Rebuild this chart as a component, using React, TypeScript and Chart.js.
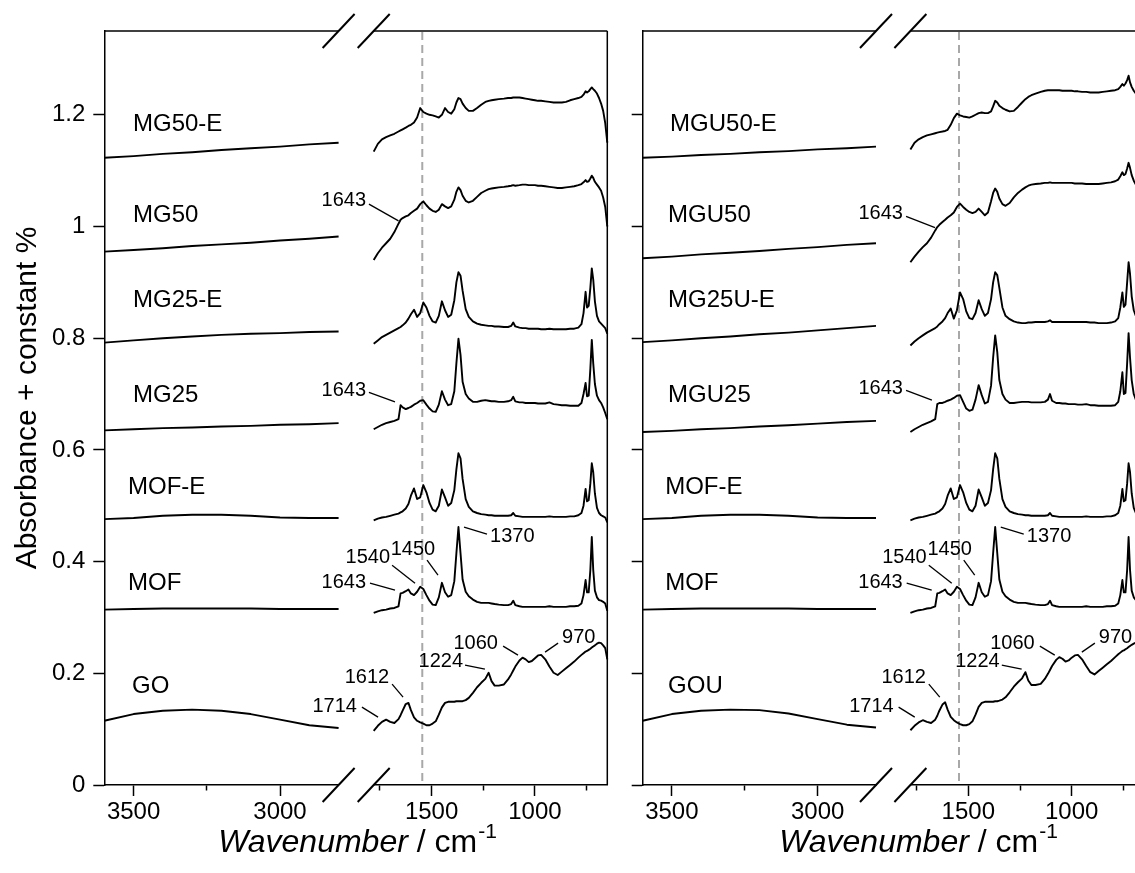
import React, { useEffect, useRef } from 'react';
import { Chart, registerables } from 'chart.js';

Chart.register(...registerables);

// ---------------- data ----------------
const WN_A = [3600, 3500, 3400, 3300, 3200, 3100, 3000, 2900, 2800];
const WN_B = [
  1780, 1760, 1740, 1720, 1700, 1680, 1660, 1650, 1640, 1625,
  1612, 1600, 1585, 1570, 1555, 1540, 1525, 1510, 1495, 1480,
  1465, 1450, 1435, 1420, 1405, 1390, 1380, 1370, 1360, 1350,
  1335, 1320, 1300, 1280, 1260, 1240, 1224, 1210, 1195, 1175,
  1150, 1130, 1115, 1105, 1095, 1075, 1060, 1045, 1030, 1015,
  1000, 985, 970, 950, 930, 910, 890, 870, 850, 830,
  810, 790, 775, 765, 755, 748, 740, 732, 725, 718,
  710, 700, 690, 680, 670, 660, 650,
];

// left panel
const MG50E_A = [1.123, 1.126, 1.130, 1.133, 1.137, 1.140, 1.143, 1.147, 1.150];
const MG50_A = [0.955, 0.958, 0.961, 0.965, 0.968, 0.971, 0.975, 0.978, 0.982];
const MG25E_A = [0.792, 0.796, 0.800, 0.803, 0.806, 0.808, 0.809, 0.811, 0.812];
const MG25_A = [0.635, 0.637, 0.639, 0.640, 0.642, 0.643, 0.645, 0.646, 0.648];
const MOFE_A = [0.476, 0.478, 0.482, 0.484, 0.484, 0.482, 0.479, 0.478, 0.478];
const MOF_A = [0.314, 0.315, 0.316, 0.316, 0.316, 0.316, 0.315, 0.315, 0.315];
const GO_A = [0.115, 0.127, 0.133, 0.135, 0.133, 0.127, 0.117, 0.107, 0.102];

// right panel
const MGU50E_A = [1.123, 1.125, 1.128, 1.130, 1.133, 1.135, 1.138, 1.140, 1.143];
const MGU50_A = [0.943, 0.946, 0.950, 0.953, 0.956, 0.960, 0.963, 0.967, 0.970];
const MG25UE_A = [0.793, 0.796, 0.800, 0.803, 0.807, 0.810, 0.814, 0.818, 0.822];
const MGU25_A = [0.632, 0.634, 0.637, 0.639, 0.642, 0.644, 0.647, 0.650, 0.652];
const GOU_A = [0.115, 0.127, 0.133, 0.135, 0.134, 0.128, 0.118, 0.108, 0.103];

const GO_B = [
  0.097, 0.106, 0.113, 0.117, 0.113, 0.111, 0.118, 0.125, 0.133, 0.145,
  0.147, 0.134, 0.121, 0.115, 0.112, 0.110, 0.107, 0.107, 0.110, 0.114,
  0.126, 0.139, 0.147, 0.149, 0.149, 0.149, 0.150, 0.150, 0.150, 0.150,
  0.152, 0.156, 0.165, 0.175, 0.183, 0.190, 0.201, 0.186, 0.178, 0.178,
  0.180, 0.189, 0.198, 0.205, 0.212, 0.223, 0.228, 0.225, 0.220, 0.222,
  0.227, 0.232, 0.233, 0.225, 0.212, 0.201, 0.197, 0.203, 0.209, 0.215,
  0.221, 0.228, 0.233, 0.236, 0.239, 0.240, 0.242, 0.244, 0.246, 0.248,
  0.250, 0.253, 0.255, 0.254, 0.250, 0.245, 0.225,
];
const GOU_B = [
  0.098, 0.106, 0.112, 0.116, 0.113, 0.111, 0.117, 0.124, 0.133, 0.144,
  0.148, 0.135, 0.122, 0.116, 0.112, 0.109, 0.107, 0.107, 0.109, 0.114,
  0.126, 0.140, 0.147, 0.149, 0.149, 0.149, 0.149, 0.150, 0.150, 0.151,
  0.153, 0.157, 0.166, 0.176, 0.184, 0.191, 0.202, 0.187, 0.179, 0.179,
  0.181, 0.190, 0.199, 0.206, 0.213, 0.224, 0.229, 0.226, 0.221, 0.223,
  0.228, 0.232, 0.233, 0.225, 0.213, 0.202, 0.198, 0.204, 0.210, 0.216,
  0.222, 0.229, 0.234, 0.237, 0.240, 0.241, 0.243, 0.245, 0.247, 0.249,
  0.251, 0.253, 0.255, 0.254, 0.250, 0.245, 0.225,
];
const MOF_B = [
  0.308, 0.311, 0.313, 0.314, 0.316, 0.317, 0.320, 0.343, 0.344, 0.347,
  0.350, 0.343, 0.340, 0.346, 0.355, 0.351, 0.340, 0.330, 0.323, 0.322,
  0.336, 0.362, 0.345, 0.337, 0.340, 0.365, 0.415, 0.462, 0.415, 0.368,
  0.346, 0.338, 0.332, 0.328, 0.326, 0.326, 0.326, 0.325, 0.324, 0.323,
  0.322, 0.322, 0.324, 0.330, 0.322, 0.320, 0.319, 0.319, 0.319, 0.319,
  0.319, 0.319, 0.319, 0.319, 0.320, 0.319, 0.319, 0.319, 0.319, 0.320,
  0.320, 0.321, 0.325, 0.340, 0.367, 0.345, 0.345, 0.385, 0.444, 0.385,
  0.348, 0.336, 0.331, 0.330, 0.328, 0.325, 0.312,
];
const MOFE_B = [
  0.474, 0.477, 0.479, 0.480, 0.482, 0.484, 0.486, 0.488, 0.490, 0.495,
  0.503, 0.518, 0.531, 0.512, 0.515, 0.537, 0.524, 0.505, 0.493, 0.490,
  0.500, 0.529, 0.515, 0.500, 0.505, 0.528, 0.565, 0.594, 0.585, 0.548,
  0.512, 0.498, 0.490, 0.487, 0.485, 0.484, 0.483, 0.483, 0.482, 0.482,
  0.482, 0.482, 0.483, 0.487, 0.482, 0.481, 0.480, 0.480, 0.480, 0.480,
  0.480, 0.480, 0.480, 0.480, 0.481, 0.480, 0.480, 0.480, 0.480, 0.481,
  0.481, 0.483, 0.487, 0.500, 0.530, 0.508, 0.510, 0.540, 0.576, 0.560,
  0.522, 0.496, 0.487, 0.483, 0.481, 0.479, 0.470,
];
const MG25_B = [
  0.637, 0.641, 0.645, 0.648, 0.650, 0.652, 0.655, 0.680, 0.676, 0.673,
  0.675, 0.677, 0.681, 0.684, 0.688, 0.689, 0.681, 0.674, 0.669, 0.668,
  0.681, 0.705, 0.690, 0.680, 0.682, 0.705, 0.755, 0.799, 0.770, 0.722,
  0.700, 0.692, 0.686, 0.686, 0.688, 0.689, 0.688, 0.687, 0.687, 0.686,
  0.686, 0.687, 0.689, 0.695, 0.687, 0.685, 0.685, 0.684, 0.684, 0.684,
  0.684, 0.683, 0.683, 0.683, 0.685, 0.682, 0.681, 0.680, 0.680, 0.679,
  0.679, 0.679, 0.684, 0.700, 0.720, 0.696, 0.697, 0.745, 0.797, 0.755,
  0.718, 0.697, 0.689, 0.684, 0.676, 0.666, 0.655,
];
const MG25E_B = [
  0.790, 0.796, 0.802, 0.806, 0.810, 0.814, 0.818, 0.820, 0.823, 0.828,
  0.835, 0.843, 0.851, 0.838, 0.845, 0.864, 0.855, 0.840, 0.830, 0.828,
  0.840, 0.866, 0.850, 0.838, 0.842, 0.868, 0.900, 0.918, 0.912, 0.885,
  0.852, 0.838, 0.830, 0.826, 0.824, 0.823, 0.822, 0.822, 0.821, 0.821,
  0.820, 0.820, 0.822, 0.828, 0.821, 0.819, 0.818, 0.818, 0.817, 0.817,
  0.817, 0.817, 0.816, 0.816, 0.817, 0.816, 0.816, 0.816, 0.816, 0.817,
  0.817, 0.819, 0.825, 0.845, 0.883, 0.855, 0.858, 0.890, 0.925, 0.905,
  0.866, 0.840, 0.830, 0.826, 0.822, 0.818, 0.808,
];
const MG50_B = [
  0.940, 0.952, 0.962, 0.970, 0.978, 0.990, 1.005, 1.012, 1.015, 1.018,
  1.020, 1.024, 1.028, 1.032, 1.040, 1.045, 1.038, 1.032, 1.028, 1.026,
  1.030, 1.040, 1.036, 1.033, 1.036, 1.048, 1.062, 1.070, 1.065, 1.055,
  1.046, 1.043, 1.046, 1.053, 1.060, 1.064, 1.067, 1.068, 1.069, 1.070,
  1.071, 1.072, 1.073, 1.074, 1.073, 1.074, 1.075, 1.075, 1.074, 1.074,
  1.074, 1.073, 1.073, 1.072, 1.071, 1.070, 1.069, 1.069, 1.070, 1.071,
  1.072, 1.074, 1.076, 1.079, 1.083, 1.080, 1.081, 1.086, 1.091, 1.087,
  1.080, 1.075, 1.070, 1.064, 1.052, 1.035, 1.000,
];
const MG50E_B = [
  1.134, 1.148, 1.156, 1.160, 1.163, 1.166, 1.170, 1.172, 1.174, 1.177,
  1.180, 1.182, 1.186, 1.195, 1.212, 1.205, 1.202, 1.200, 1.199, 1.197,
  1.195, 1.200, 1.212, 1.205, 1.202, 1.210, 1.222, 1.230, 1.228, 1.220,
  1.212, 1.207, 1.207, 1.212, 1.218, 1.223, 1.225, 1.226, 1.227, 1.228,
  1.229, 1.230, 1.230, 1.231, 1.231, 1.231, 1.230, 1.229, 1.228, 1.227,
  1.226, 1.225, 1.225, 1.224, 1.223, 1.222, 1.222, 1.222, 1.223, 1.226,
  1.228, 1.230, 1.232, 1.236, 1.242, 1.240, 1.242, 1.246, 1.249, 1.246,
  1.243, 1.238, 1.230, 1.220, 1.207, 1.185, 1.150,
];
const MGU25_B = [
  0.632, 0.637, 0.641, 0.645, 0.648, 0.651, 0.655, 0.682, 0.684, 0.684,
  0.686, 0.688, 0.690, 0.693, 0.697, 0.698, 0.686, 0.674, 0.670, 0.672,
  0.690, 0.716, 0.698, 0.683, 0.686, 0.715, 0.765, 0.805, 0.775, 0.725,
  0.700, 0.690, 0.684, 0.684, 0.685, 0.686, 0.686, 0.686, 0.685, 0.685,
  0.685, 0.686, 0.690, 0.700, 0.688, 0.684, 0.684, 0.683, 0.683, 0.682,
  0.682, 0.682, 0.681, 0.681, 0.682, 0.680, 0.680, 0.679, 0.679, 0.679,
  0.679, 0.680, 0.686, 0.705, 0.739, 0.700, 0.702, 0.755, 0.809, 0.765,
  0.725, 0.700, 0.690, 0.685, 0.678, 0.668, 0.658,
];
const MG25UE_B = [
  0.787, 0.794, 0.800, 0.805, 0.810, 0.814, 0.818, 0.821, 0.825, 0.830,
  0.836, 0.845, 0.853, 0.835, 0.850, 0.882, 0.870, 0.848, 0.836, 0.834,
  0.845, 0.868, 0.852, 0.840, 0.845, 0.870, 0.900, 0.918, 0.913, 0.890,
  0.855, 0.840, 0.834, 0.830, 0.828, 0.827, 0.827, 0.828, 0.828, 0.829,
  0.829, 0.829, 0.830, 0.832, 0.829, 0.829, 0.829, 0.829, 0.829, 0.829,
  0.829, 0.829, 0.829, 0.829, 0.829, 0.828, 0.828, 0.827, 0.827, 0.827,
  0.828, 0.830, 0.836, 0.855, 0.882, 0.856, 0.860, 0.900, 0.936, 0.915,
  0.875, 0.850, 0.840, 0.835, 0.830, 0.826, 0.815,
];
const MGU50_B = [
  0.936, 0.946, 0.955, 0.963, 0.970, 0.980, 0.993, 0.999, 1.003, 1.008,
  1.012, 1.016, 1.020, 1.025, 1.035, 1.041, 1.035, 1.030, 1.026, 1.024,
  1.026, 1.032, 1.026, 1.020, 1.025, 1.045, 1.060, 1.068, 1.062, 1.050,
  1.040, 1.037, 1.042, 1.052, 1.060, 1.066, 1.070, 1.073, 1.075, 1.076,
  1.077, 1.078, 1.078, 1.079, 1.078, 1.078, 1.078, 1.078, 1.078, 1.078,
  1.078, 1.077, 1.077, 1.077, 1.076, 1.076, 1.076, 1.076, 1.077, 1.078,
  1.079, 1.081, 1.084, 1.090, 1.097, 1.092, 1.094, 1.104, 1.114, 1.105,
  1.092, 1.082, 1.075, 1.068, 1.055, 1.038, 1.005,
];
const MGU50E_B = [
  1.138, 1.150, 1.156, 1.160, 1.163, 1.165, 1.167, 1.168, 1.169, 1.170,
  1.171, 1.173, 1.182, 1.194, 1.202, 1.199, 1.197, 1.196, 1.195, 1.197,
  1.200, 1.203, 1.204, 1.203, 1.203, 1.206, 1.215, 1.225, 1.222, 1.216,
  1.212, 1.209, 1.206, 1.207, 1.214, 1.222, 1.228, 1.232, 1.235, 1.238,
  1.241, 1.243, 1.244, 1.244, 1.244, 1.244, 1.244, 1.243, 1.243, 1.243,
  1.243, 1.242, 1.242, 1.241, 1.241, 1.240, 1.240, 1.240, 1.241, 1.242,
  1.243, 1.244, 1.246, 1.250, 1.255, 1.252, 1.256, 1.262, 1.270, 1.258,
  1.250, 1.243, 1.238, 1.232, 1.222, 1.205, 1.170,
];

const NAMES_L = ['MG50-E', 'MG50', 'MG25-E', 'MG25', 'MOF-E', 'MOF', 'GO'];
const NAMES_R = ['MGU50-E', 'MGU50', 'MG25U-E', 'MGU25', 'MOF-E', 'MOF', 'GOU'];

const SERIES_L = [
  [MG50E_A, MG50E_B], [MG50_A, MG50_B], [MG25E_A, MG25E_B], [MG25_A, MG25_B],
  [MOFE_A, MOFE_B], [MOF_A, MOF_B], [GO_A, GO_B],
];
const SERIES_R = [
  [MGU50E_A, MGU50E_B], [MGU50_A, MGU50_B], [MG25UE_A, MG25UE_B], [MGU25_A, MGU25_B],
  [MOFE_A, MOFE_B], [MOF_A, MOF_B], [GOU_A, GOU_B],
];

const Y_TICKS = [0, 0.2, 0.4, 0.6, 0.8, 1, 1.2];
const XA_TICKS = [3500, 3250, 3000];
const XB_TICKS = [1750, 1500, 1250, 1000, 750];
const X_MAJOR = [3500, 3000, 1500, 1000];
const DASH_WN = 1545;

// ---------------- layout ----------------
const W = 1135, H = 873;
const FONT = '"Liberation Sans", Arial, Helvetica, sans-serif';
const TOP = 31, BOTTOM = 785;
const PANELS = [
  { aL: 104.3, aR: 338.6, bL: 373.7, bR: 607.3, titleX: 357 },
  { aL: 642.7, aR: 876, bL: 910.4, bR: 1144.1, titleX: 918 },
];

// name label anchors (wavenumber on the high segment, absorbance)
const NAME_V = [1.1825, 1.0197, 0.8676, 0.6977, 0.5331, 0.3614, 0.1771];
const NAME_W = [
  [3502, 3502, 3502, 3502, 3519, 3519, 3505],
  [3506, 3513, 3513, 3513, 3523, 3523, 3513],
];

type Ann = { t: string; w: number; v: number; align: CanvasTextAlign; l: number[] };
const ANN_COMMON: Ann[] = [
  { t: '1643', w: 1817, v: 0.363, align: 'right', l: [1798, 0.3614, 1677, 0.3488] },
  { t: '1540', w: 1701, v: 0.408, align: 'right', l: [1691, 0.3936, 1580, 0.3614] },
  { t: '1450', w: 1590, v: 0.422, align: 'center', l: [1522, 0.4025, 1469, 0.3757] },
  { t: '1370', w: 1217, v: 0.445, align: 'left', l: [1343, 0.4615, 1232, 0.449] },
  { t: '1714', w: 1861, v: 0.141, align: 'right', l: [1837, 0.1395, 1759, 0.1216] },
  { t: '1612', w: 1705, v: 0.193, align: 'right', l: [1691, 0.1807, 1638, 0.1574] },
  { t: '1224', w: 1348, v: 0.222, align: 'right', l: [1338, 0.2147, 1242, 0.2075] },
  { t: '1060', w: 1179, v: 0.254, align: 'right', l: [1154, 0.2487, 1082, 0.2326] },
  { t: '970', w: 869, v: 0.265, align: 'left', l: [888, 0.254, 951, 0.2379] },
];
const ANN_PANEL: Ann[][] = [
  [
    { t: '1643', w: 1817, v: 1.046, align: 'right', l: [1803, 1.040, 1660, 1.010] },
    { t: '1643', w: 1817, v: 0.7066, align: 'right', l: [1803, 0.703, 1677, 0.686] },
  ],
  [
    { t: '1643', w: 1816, v: 1.023, align: 'right', l: [1801, 1.018, 1661, 0.998] },
    { t: '1643', w: 1816, v: 0.71, align: 'right', l: [1801, 0.7066, 1676, 0.689] },
  ],
];

// ---------------- chart ----------------
function pts(xs: number[], ys: number[]) {
  return xs.map((x, i) => ({ x, y: ys[i] }));
}

function place(scale: any, left: number, right: number, top: number, bottom: number) {
  scale.left = left; scale.right = right; scale.top = top; scale.bottom = bottom;
  scale.width = right - left; scale.height = bottom - top;
  scale.configure();
}

const layoutPlugin = {
  id: 'brokenAxes',
  afterLayout(chart: any) {
    PANELS.forEach((p, i) => {
      place(chart.scales['y' + i], p.aL - 80, p.aL, TOP, BOTTOM);
      place(chart.scales['xa' + i], p.aL, p.aR, BOTTOM, BOTTOM + 60);
      place(chart.scales['xb' + i], p.bL, p.bR, BOTTOM, BOTTOM + 60);
    });
    chart.chartArea = { left: 104.3, top: TOP, right: 1144.1, bottom: BOTTOM, width: 1039.8, height: BOTTOM - TOP };
  },
};

function line(ctx: CanvasRenderingContext2D, x1: number, y1: number, x2: number, y2: number, w: number) {
  ctx.lineWidth = w;
  ctx.beginPath();
  ctx.moveTo(x1, y1);
  ctx.lineTo(x2, y2);
  ctx.stroke();
}

const overlayPlugin = {
  id: 'overlay',
  beforeDatasetsDraw(chart: any) {
    const ctx = chart.ctx as CanvasRenderingContext2D;
    ctx.save();
    PANELS.forEach((_p, i) => {
      const dx = chart.scales['xb' + i].getPixelForValue(DASH_WN);
      ctx.strokeStyle = '#a8a8a8';
      ctx.setLineDash([8, 5]);
      line(ctx, dx, TOP + 1, dx, BOTTOM - 1, 2);
    });
    ctx.restore();
  },
  afterDraw(chart: any) {
    const ctx = chart.ctx as CanvasRenderingContext2D;
    ctx.save();
    PANELS.forEach((p, i) => {
      ctx.strokeStyle = '#000';
      ctx.setLineDash([]);
      line(ctx, p.aL, TOP, p.aR, TOP, 1.5);
      line(ctx, p.bL, TOP, p.bR, TOP, 1.5);
      line(ctx, p.bR, TOP, p.bR, BOTTOM, 1.5);
      [p.aR, p.bL].forEach((cx) => [TOP, BOTTOM].forEach((cy) => line(ctx, cx - 16, cy + 17, cx + 16, cy - 17, 2)));

      const xa = chart.scales['xa' + i];
      const xb = chart.scales['xb' + i];
      const ys = chart.scales['y' + i];
      const names = i === 0 ? NAMES_L : NAMES_R;
      ctx.fillStyle = '#000';
      ctx.font = `24px ${FONT}`;
      ctx.textAlign = 'left';
      ctx.textBaseline = 'middle';
      names.forEach((n, k) => {
        ctx.fillText(n, xa.getPixelForValue(NAME_W[i][k]), ys.getPixelForValue(NAME_V[k]));
      });

      ctx.font = `20px ${FONT}`;
      [...ANN_PANEL[i], ...ANN_COMMON].forEach((a) => {
        ctx.textAlign = a.align;
        ctx.fillText(a.t, xb.getPixelForValue(a.w), ys.getPixelForValue(a.v));
        line(ctx, xb.getPixelForValue(a.l[0]), ys.getPixelForValue(a.l[1]),
          xb.getPixelForValue(a.l[2]), ys.getPixelForValue(a.l[3]), 1.3);
      });

      // x title
      const f1 = `italic 32px ${FONT}`, f2 = `32px ${FONT}`, f3 = `21px ${FONT}`;
      const p1 = 'Wavenumber', p2 = ' / cm', p3 = '-1';
      ctx.font = f1; const w1 = ctx.measureText(p1).width;
      ctx.font = f2; const w2 = ctx.measureText(p2).width;
      ctx.font = f3; const w3 = ctx.measureText(p3).width;
      let x = p.titleX - (w1 + w2 + w3) / 2;
      const base = 852;
      ctx.textAlign = 'left';
      ctx.textBaseline = 'alphabetic';
      ctx.font = f1; ctx.fillText(p1, x, base); x += w1;
      ctx.font = f2; ctx.fillText(p2, x, base); x += w2;
      ctx.font = f3; ctx.fillText(p3, x + 1, base - 14);
    });

    ctx.translate(28, 398);
    ctx.rotate(-Math.PI / 2);
    ctx.font = `30px ${FONT}`;
    ctx.textAlign = 'center';
    ctx.textBaseline = 'middle';
    ctx.fillStyle = '#000';
    ctx.fillText('Absorbance + constant %', 0, 0);
    ctx.restore();
  },
};

function xScale(min: number, max: number, ticks: number[]) {
  return {
    type: 'linear', axis: 'x', position: 'bottom', min, max, reverse: true,
    afterBuildTicks: (sc: any) => { sc.ticks = ticks.map((v) => ({ value: v })); },
    ticks: {
      autoSkip: false, maxRotation: 0, minRotation: 0, padding: 2, color: '#000',
      font: { family: FONT, size: 24 },
      callback: (v: number) => (X_MAJOR.includes(v) ? String(v) : ''),
    },
    grid: {
      drawOnChartArea: false, drawTicks: true, tickLength: 11, tickWidth: 1.5, tickColor: '#000',
      tickBorderDash: (c: any) => (c.tick && X_MAJOR.includes(c.tick.value) ? [] : [5, 40]),
    },
    border: { display: true, color: '#000', width: 1.5 },
  };
}

function yScale(showLabels: boolean) {
  return {
    type: 'linear', axis: 'y', position: 'left', min: 0, max: 1.35,
    afterBuildTicks: (sc: any) => { sc.ticks = Y_TICKS.map((v) => ({ value: v })); },
    ticks: {
      display: showLabels, padding: 8, color: '#000',
      font: { family: FONT, size: 24 },
      callback: (v: number) => String(Math.round(v * 10) / 10),
    },
    grid: { drawOnChartArea: false, drawTicks: true, tickLength: 11, tickWidth: 1.5, tickColor: '#000' },
    border: { display: true, color: '#000', width: 1.5 },
  };
}

function buildConfig(): any {
  const datasets: any[] = [];
  [SERIES_L, SERIES_R].forEach((list, p) => {
    list.forEach(([a, b]) => {
      const style = {
        borderColor: '#000', borderWidth: 1.9, pointRadius: 0, tension: 0, fill: false,
        borderJoinStyle: 'round', clip: false, yAxisID: 'y' + p,
      };
      datasets.push({ ...style, data: pts(WN_A, a), xAxisID: 'xa' + p });
      datasets.push({ ...style, data: pts(WN_B, b), xAxisID: 'xb' + p });
    });
  });
  return {
    type: 'line',
    data: { datasets },
    options: {
      responsive: false, animation: false, devicePixelRatio: 1, events: [],
      layout: { padding: 0 },
      plugins: { legend: { display: false }, tooltip: { enabled: false } },
      scales: {
        xa0: xScale(2800, 3600, XA_TICKS),
        xb0: xScale(650, 1780, XB_TICKS),
        y0: yScale(true),
        xa1: xScale(2800, 3600, XA_TICKS),
        xb1: xScale(650, 1780, XB_TICKS),
        y1: yScale(false),
      },
    },
    plugins: [layoutPlugin, overlayPlugin],
  };
}

export default function App() {
  const ref = useRef<HTMLCanvasElement>(null);
  useEffect(() => {
    const chart = new Chart(ref.current as HTMLCanvasElement, buildConfig());
    return () => chart.destroy();
  }, []);
  return (
    <div style={{ position: 'absolute', left: 0, top: 0, width: W, height: H, background: '#fff', overflow: 'hidden' }}>
      <canvas ref={ref} width={W} height={H} style={{ display: 'block', width: W, height: H }} />
    </div>
  );
}
